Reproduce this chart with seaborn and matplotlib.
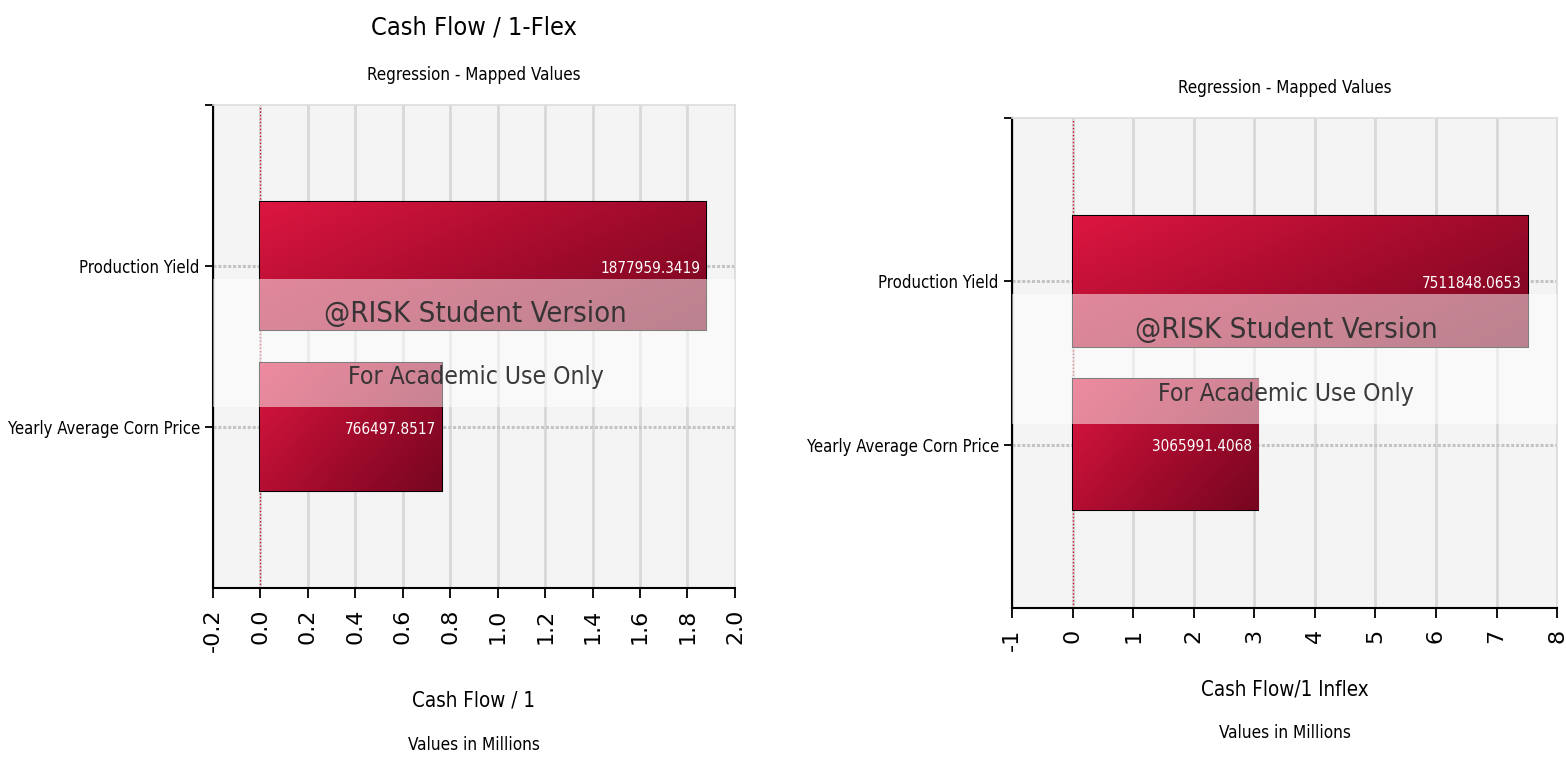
import numpy as np
import pandas as pd
import matplotlib
matplotlib.use('Agg')
import matplotlib.pyplot as plt
import seaborn as sns
from matplotlib import font_manager
from matplotlib.colors import LinearSegmentedColormap
from matplotlib.patches import Rectangle

categories = ['Production Yield', 'Yearly Average Corn Price']
flex_values = [1877959.3419, 766497.8517]
inflex_values = [7511848.0653, 3065991.4068]

flex_ticks = [-0.2, 0.0, 0.2, 0.4, 0.6, 0.8, 1.0, 1.2, 1.4, 1.6, 1.8, 2.0]
inflex_ticks = [-1, 0, 1, 2, 3, 4, 5, 6, 7, 8]

sns.set_theme(style='white')
plt.rcParams['font.family'] = ['DejaVu Sans']
plt.rcParams['text.color'] = 'black'

# look for a condensed face, the original uses a narrow Tahoma-like font
cond = [f for f in font_manager.fontManager.ttflist
        if f.stretch in ('condensed', 'semi-condensed', 'extra-condensed', 500 - 125)
        or 'Condensed' in f.fname or 'Narrow' in f.fname]
if cond:
    fam = cond[0].name
    narrow = dict(family=[fam, 'DejaVu Sans'], stretch=cond[0].stretch)
    scale = 1.0
else:
    narrow = dict(family=['DejaVu Sans'])
    scale = 0.8

bar_cmap = LinearSegmentedColormap.from_list('risk', ['#dc1640', '#a80c2e', '#760620'])


def draw_panel(ax, values, ticks, title=None):
    df = pd.DataFrame({'input': categories, 'value': np.array(values) / 1e6})
    sns.barplot(data=df, y='input', x='value', orient='h', ax=ax,
                color='#b01030', edgecolor='black', linewidth=1.5, width=0.8, zorder=3)

    # diagonal gradient fill clipped to each bar
    gy, gx = np.mgrid[0:1:60j, 0:1:200j]
    grad = 0.62 * gx + 0.38 * gy
    for patch in ax.patches:
        x0, y0 = patch.get_x(), patch.get_y()
        w, h = patch.get_width(), patch.get_height()
        im = ax.imshow(grad, cmap=bar_cmap, aspect='auto', origin='upper',
                       extent=(x0, x0 + w, y0 + h, y0), zorder=3.5)
        im.set_clip_path(patch)

    for i, v in enumerate(values):
        ax.annotate(f'{v:.4f}', xy=(v / 1e6, i), xytext=(-6, -2), textcoords='offset pixels',
                    ha='right', va='center', color='white', fontsize=11 * scale, zorder=6,
                    **narrow)

    ax.set_xlim(ticks[0], ticks[-1])
    ax.set_ylim(2, -1)
    ax.set_xticks(ticks)
    ax.set_xticklabels([f'{t:.1f}' if isinstance(t, float) else str(t) for t in ticks],
                       rotation=90, family='DejaVu Sans', fontsize=16, color='black')
    ax.set_yticks([0, 1])
    ax.set_yticklabels(categories, fontsize=12 * scale, color='black', **narrow)
    ax.set_yticks([-1], minor=True)
    ax.set_xlabel('')
    ax.set_ylabel('')
    ax.set_facecolor('#f4f4f4')

    for t in ticks:
        ax.axvline(t, color='#d8d8d8', lw=2, zorder=1)
    for c in [0, 1]:
        ax.axhline(c, color='#c4c4c4', lw=2.2, ls=(0, (1, 0.6)), zorder=1)
    ax.axvline(0, color='#c8102e', lw=1, ls=(0, (1, 1.5)), zorder=2)

    ax.tick_params(axis='x', which='major', bottom=True, length=7, width=1.3, color='black', pad=8)
    ax.tick_params(axis='y', which='both', left=True, length=6, width=1.3, color='black')
    for side in ['left', 'bottom']:
        ax.spines[side].set_color('black')
        ax.spines[side].set_linewidth(1.5)
    for side in ['top', 'right']:
        ax.spines[side].set_color('#dcdcdc')
        ax.spines[side].set_linewidth(1.2)

    # watermark band
    ax.add_patch(Rectangle((0, 0.375), 1, 0.265, transform=ax.transAxes,
                           facecolor='white', alpha=0.5, edgecolor='none', zorder=4))
    ax.text(0.503, 0.568, '@RISK Student Version', transform=ax.transAxes, ha='center',
            va='center', fontsize=21 * scale, color='#303030', alpha=0.95, zorder=5, **narrow)
    ax.text(0.503, 0.437, 'For Academic Use Only', transform=ax.transAxes, ha='center',
            va='center', fontsize=17.7 * scale, color='#303030', alpha=0.95, zorder=5, **narrow)

    ax.annotate('Regression - Mapped Values', xy=(0.5, 1), xycoords='axes fraction',
                xytext=(0, 30), textcoords='offset pixels', ha='center', va='center',
                fontsize=12.2 * scale, **narrow)
    if title:
        ax.annotate(title, xy=(0.5, 1), xycoords='axes fraction', xytext=(0, 78),
                    textcoords='offset pixels', ha='center', va='center', fontsize=18.2 * scale,
                    **narrow)


fig = plt.figure(figsize=(15.66, 7.62), dpi=100)
ax1 = fig.add_axes([0.136, 0.2283, 0.3333, 0.6339])
ax2 = fig.add_axes([0.6462, 0.2021, 0.3481, 0.643])

draw_panel(ax1, flex_values, flex_ticks, title='Cash Flow / 1-Flex')
draw_panel(ax2, inflex_values, inflex_ticks)

ax1.annotate('Cash Flow / 1', xy=(0.5, 0), xycoords='axes fraction', xytext=(0, -112),
             textcoords='offset pixels', ha='center', va='center', fontsize=14.8 * scale, **narrow)
ax1.annotate('Values in Millions', xy=(0.5, 0), xycoords='axes fraction', xytext=(0, -157),
             textcoords='offset pixels', ha='center', va='center', fontsize=12.3 * scale, **narrow)
ax2.annotate('Cash Flow/1 Inflex', xy=(0.5, 0), xycoords='axes fraction', xytext=(0, -82),
             textcoords='offset pixels', ha='center', va='center', fontsize=14.8 * scale, **narrow)
ax2.annotate('Values in Millions', xy=(0.5, 0), xycoords='axes fraction', xytext=(0, -125),
             textcoords='offset pixels', ha='center', va='center', fontsize=12.3 * scale, **narrow)

fig.savefig('out.png', dpi=100)
